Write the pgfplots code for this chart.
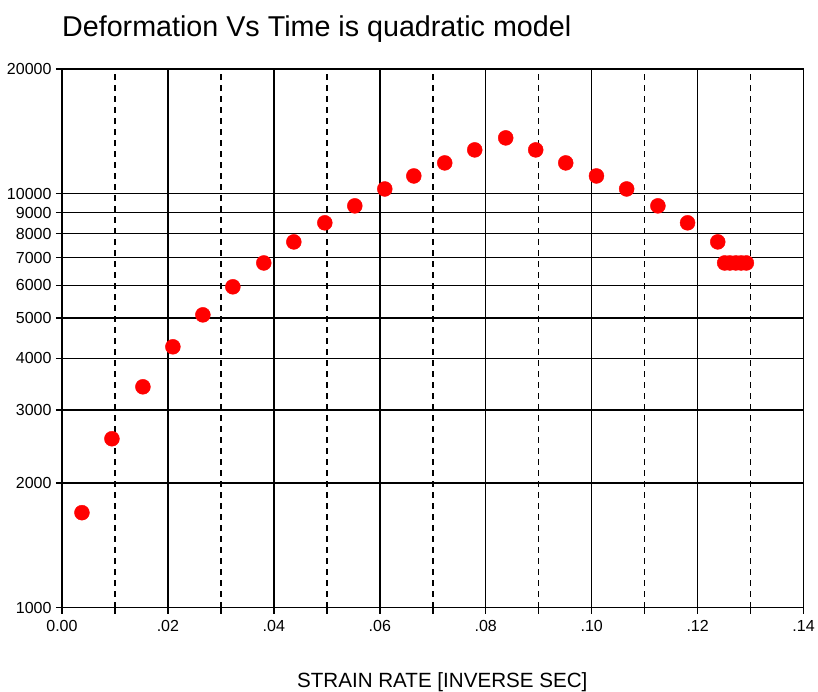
\documentclass[border=0pt]{standalone}
\usepackage{pgfplots}
\pgfplotsset{compat=1.18}
\usepackage{fontspec}
\setmainfont{Liberation Sans}
\usetikzlibrary{calc}

\begin{document}
\begin{tikzpicture}
\begin{axis}[
  name=ax, at={(0,0)}, anchor=south west,
  scale only axis, width=742bp, height=539bp,
  xmin=0, xmax=0.14,
  ymode=log, ymin=1000, ymax=20000,
  xtick={0,0.02,0.04,0.06,0.08,0.10,0.12,0.14},
  xticklabels={0.00,.02,.04,.06,.08,.10,.12,.14},
  minor xtick={0.01,0.03,0.05,0.07,0.09,0.11,0.13},
  ytick={1000,2000,3000,4000,5000,6000,7000,8000,9000,10000,20000},
  yticklabels={1000,2000,3000,4000,5000,6000,7000,8000,9000,10000,20000},
  xmajorgrids, xminorgrids, ymajorgrids,
  major grid style={black, line width=1.5bp},
  minor grid style={black, line width=1.5bp, dash pattern=on 6bp off 5bp},
  axis line style={black, line width=1.6bp},
  tick style={black, line width=1.5bp},
  tick align=outside, major tick length=6bp, minor tick length=6bp,
  xtick pos=bottom, ytick pos=left,
  tick label style={font=\fontsize{16bp}{18bp}\selectfont},
  xticklabel style={yshift=-3bp},
  yticklabel style={xshift=-1bp},
  /pgf/number format/assume math mode=true,
]
\addplot[only marks, mark=*, mark size=7.5bp, draw=red, fill=red] coordinates {
  (0.00377,1696) (0.00943,2558) (0.01528,3415) (0.02094,4266) (0.0266,5095)
  (0.03226,5955) (0.0381,6800) (0.04377,7645) (0.04962,8500) (0.05528,9340)
  (0.06094,10260) (0.06642,11030) (0.07226,11860) (0.07792,12750) (0.08377,13630)
  (0.08943,12750) (0.0951,11860) (0.1009,11030) (0.1066,10260) (0.1125,9340)
  (0.1181,8500) (0.1238,7645) (0.1251,6800) (0.1261,6800) (0.1272,6800)
  (0.1282,6800) (0.1292,6800)
};
\end{axis}
\path[use as bounding box] ($(ax.south west)+(-62bp,-84bp)$) rectangle ($(ax.north east)+(14bp,69bp)$);
\node[anchor=base west, inner sep=0pt, font=\fontsize{28.7bp}{32bp}\selectfont]
  at ($(ax.north west)+(0bp,32bp)$) {Deformation Vs Time is quadratic model};
\node[anchor=base, inner sep=0pt, font=\fontsize{20.6bp}{24bp}\selectfont]
  at ($(ax.south west)+(380.5bp,-80bp)$) {STRAIN RATE [INVERSE SEC]};
\end{tikzpicture}
\end{document}
